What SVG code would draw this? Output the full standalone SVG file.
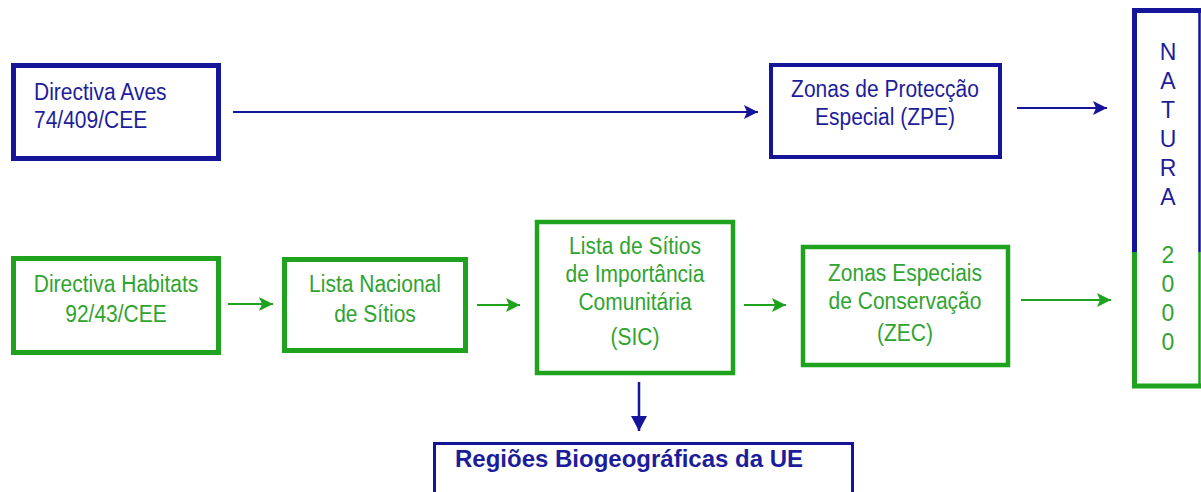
<svg xmlns="http://www.w3.org/2000/svg" width="1201" height="492" viewBox="0 0 1201 492">
<style>
.bg{fill:#ffffff}
.bb{fill:#ffffff;stroke:#15159a;stroke-width:5}
.gb{fill:#ffffff;stroke:#1fa31f;stroke-width:5}
.t{font-family:"Liberation Sans",Arial,sans-serif;font-size:21px}
.tb{fill:#1d1d9c}
.tg{fill:#2fa42f;text-anchor:middle}
.c{text-anchor:middle}
.nat{font-family:"Liberation Sans",Arial,sans-serif;font-size:23px;text-anchor:middle}
.reg{font-family:"Liberation Sans",Arial,sans-serif;font-size:24px;font-weight:bold;fill:#1d1d9c}
.lb{stroke:#15159a;stroke-width:2;fill:none;marker-end:url(#ab)}
.lg{stroke:#1fa31f;stroke-width:2;fill:none;marker-end:url(#ag)}
</style>
<defs>
<marker id="ab" markerUnits="userSpaceOnUse" markerWidth="16" markerHeight="16" refX="14" refY="7" orient="auto"><path d="M0,0 L14,7 L0,14 L3,7 z" fill="#15159a"/></marker>
<marker id="ag" markerUnits="userSpaceOnUse" markerWidth="16" markerHeight="16" refX="14" refY="7" orient="auto"><path d="M0,0 L14,7 L0,14 L3,7 z" fill="#1fa31f"/></marker>
<marker id="ad" markerUnits="userSpaceOnUse" markerWidth="16" markerHeight="18" refX="15" refY="8" orient="auto"><path d="M0,0 L15,8 L0,16 z" fill="#15159a"/></marker>
</defs>
<rect class="bg" x="0" y="0" width="1201" height="492"/>
<g id="connectors">
<line class="lb" x1="233" y1="112" x2="758" y2="112"/>
<line class="lb" x1="1017" y1="108" x2="1107" y2="108"/>
<line class="lg" x1="228" y1="304" x2="273" y2="304"/>
<line class="lg" x1="477" y1="305" x2="520" y2="305"/>
<line class="lg" x1="744" y1="305" x2="786" y2="305"/>
<line class="lg" x1="1021" y1="300" x2="1111" y2="300"/>
<line style="stroke:#15159a;stroke-width:2.5;marker-end:url(#ad)" x1="639" y1="382" x2="639" y2="431"/>
</g>
<g id="aves">
<rect class="bb" x="13.5" y="65.5" width="205" height="93"/>
<text class="t tb" transform="translate(34,100) scale(1,1.12)">Directiva Aves</text>
<text class="t tb" transform="translate(34,128) scale(1,1.12)">74/409/CEE</text>
</g>
<g id="zpe">
<rect class="bb" style="stroke-width:4" x="771" y="65" width="229" height="92"/>
<text class="t tb c" transform="translate(885,97) scale(1,1.12)">Zonas de Protecção</text>
<text class="t tb c" transform="translate(885,125) scale(1,1.12)">Especial (ZPE)</text>
</g>
<g id="natura">
<rect x="1134" y="10" width="66" height="377" fill="#ffffff"/>
<path d="M1134.5,252 V10.5 H1201" fill="none" stroke="#15159a" stroke-width="5"/>
<path d="M1199.5,10 V252" fill="none" stroke="#15159a" stroke-width="2.5"/>
<path d="M1134.5,252 V386 H1201" fill="none" stroke="#1fa31f" stroke-width="5"/>
<path d="M1199.5,252 V386" fill="none" stroke="#1fa31f" stroke-width="2.5"/>
<text class="nat" fill="#1d1d9c"><tspan x="1168" y="60">N</tspan><tspan x="1168" y="89">A</tspan><tspan x="1168" y="118">T</tspan><tspan x="1168" y="147">U</tspan><tspan x="1168" y="176">R</tspan><tspan x="1168" y="205">A</tspan></text>
<text class="nat" fill="#2fa42f"><tspan x="1168" y="263">2</tspan><tspan x="1168" y="292">0</tspan><tspan x="1168" y="321">0</tspan><tspan x="1168" y="350">0</tspan></text>
</g>
<g id="habitats">
<rect class="gb" x="13.5" y="258.5" width="205" height="94"/>
<text class="t tg" transform="translate(116,292) scale(1,1.12)">Directiva Habitats</text>
<text class="t tg" transform="translate(116,322) scale(1,1.12)">92/43/CEE</text>
</g>
<g id="lista-nacional">
<rect class="gb" x="284.5" y="259.5" width="181" height="91"/>
<text class="t tg" transform="translate(375,292) scale(1,1.12)">Lista Nacional</text>
<text class="t tg" transform="translate(375,322) scale(1,1.12)">de Sítios</text>
</g>
<g id="sic">
<rect class="gb" style="stroke-width:4.5" x="537" y="222" width="196" height="151"/>
<text class="t tg" transform="translate(635,254) scale(1,1.12)">Lista de Sítios</text>
<text class="t tg" transform="translate(635,282) scale(1,1.12)">de Importância</text>
<text class="t tg" transform="translate(635,310) scale(1,1.12)">Comunitária</text>
<text class="t tg" transform="translate(635,345) scale(1,1.12)">(SIC)</text>
</g>
<g id="zec">
<rect class="gb" style="stroke-width:4.5" x="803" y="247" width="205" height="118"/>
<text class="t tg" transform="translate(905,281) scale(1,1.12)">Zonas Especiais</text>
<text class="t tg" transform="translate(905,309) scale(1,1.12)">de Conservação</text>
<text class="t tg" transform="translate(905,341) scale(1,1.12)">(ZEC)</text>
</g>
<g id="regioes">
<rect class="bb" style="stroke-width:3" x="434.5" y="443.5" width="418" height="60"/>
<text class="reg" x="455" y="467">Regiões Biogeográficas da UE</text>
</g>
</svg>
